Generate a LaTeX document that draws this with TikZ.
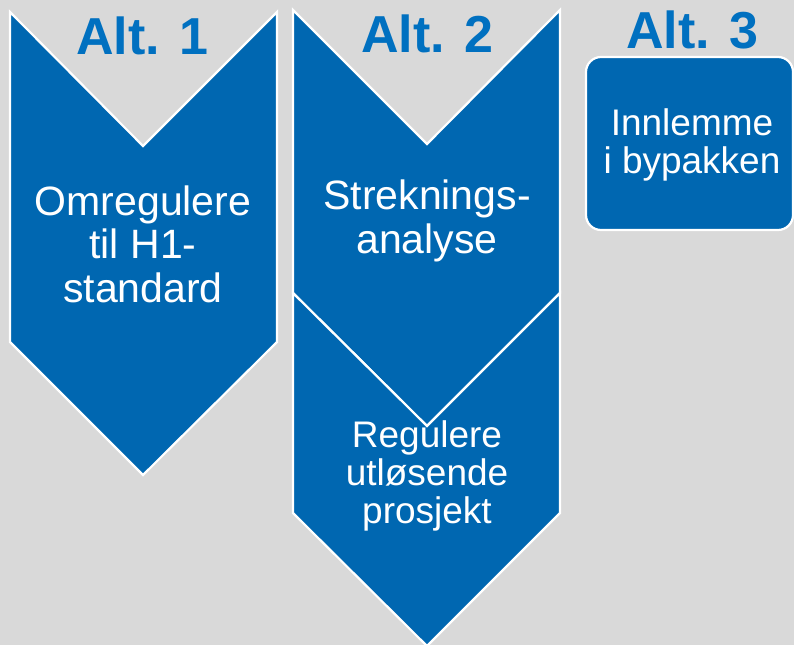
\documentclass[tikz,border=0pt]{standalone}
\usepackage{fontspec}
\setmainfont{Liberation Sans}
\definecolor{pagegrey}{RGB}{217,217,217}
\definecolor{blockblue}{RGB}{0,103,177}
\definecolor{titleblue}{RGB}{0,112,192}
\begin{document}
\begin{tikzpicture}[x=1pt,y=-1pt,
  chevron/.style={fill=blockblue, draw=white, line width=2.2pt, line join=miter},
  panel/.style={fill=blockblue, draw=white, line width=2.2pt, rounded corners=15pt},
  alttitle/.style={text=titleblue, font=\bfseries\fontsize{52}{52}\selectfont, anchor=base, inner sep=0pt},
  % multi-line labels are anchored at the baseline of their last line
  biglabel/.style={text=white, align=center, inner sep=0pt, anchor=base, font=\fontsize{41}{43.5}\selectfont},
  smalllabel/.style={text=white, align=center, inner sep=0pt, anchor=base, font=\fontsize{37}{38}\selectfont},
]
% page
\fill[pagegrey] (0,0) rectangle (794,645);
\useasboundingbox (0,0) rectangle (794,645);

% Alt. 1
\path[chevron] (10,12) -- (143,146) -- (277,12) -- (277,342) -- (143,475) -- (10,342) -- cycle;
\node[alttitle] (t1) at (142,54) {Alt. 1};
\node[biglabel] (a1) at (143,302) {Omregulere\\til H1-\\standard};

% Alt. 2
\path[chevron] (293,10) -- (427,144) -- (560,10) -- (560,293) -- (427,426) -- (293,293) -- cycle;
\path[chevron] (293,293) -- (427,426) -- (560,293) -- (560,513) -- (427,646) -- (293,513) -- cycle;
\node[alttitle] (t2) at (427,52) {Alt. 2};
\node[biglabel] (a2) at (427,253) {Streknings-\\analyse};
\node[smalllabel] (b2) at (427,523) {Regulere\\utløsende\\prosjekt};

% Alt. 3
\path[panel] (586,57) rectangle (793,230);
\node[alttitle] (t3) at (692,48) {Alt. 3};
\node[smalllabel] (a3) at (692,173) {Innlemme\\i bypakken};
\end{tikzpicture}
\end{document}
